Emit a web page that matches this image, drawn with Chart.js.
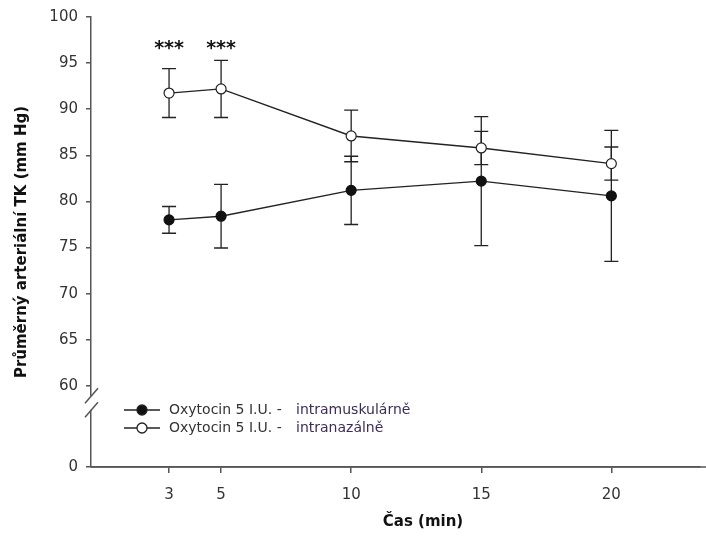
<!DOCTYPE html>
<html>
<head>
<meta charset="utf-8">
<script src="https://cdn.jsdelivr.net/npm/chart.js@4.4.1/dist/chart.umd.min.js"></script>
<style>
  html, body { margin: 0; padding: 0; background: #fff; overflow: hidden; }
</style>
</head>
<body>
<canvas id="myChart" width="706" height="543"></canvas>
<script>
// data (mean +/- error)
const times = [3, 5, 10, 15, 20];
const imMean = [78.0, 78.4, 81.2, 82.2, 80.6];
const imErr = [1.45, 3.45, 3.7, 7.0, 7.1];
const inMean = [91.75, 92.2, 87.1, 85.8, 84.1];
const inErr = [2.65, 3.1, 2.8, 1.8, 1.8];

const xTicks = [3, 5, 10, 15, 20];
const yTicks = [0, 60, 65, 70, 75, 80, 85, 90, 95, 100];
const yZeroAt = 51.2; // the "0" tick sits below the axis break
const sigTimes = [3, 5];
const sigLabel = '***';

const imLabel = ['Oxytocin 5 I.U. -', 'intramuskulárně'];
const inLabel = ['Oxytocin 5 I.U. -', 'intranazálně'];

const FONT = "'DejaVu Sans', sans-serif";

const extras = {
  id: 'extras',
  beforeDatasetsDraw(chart) {
    const { ctx, scales: { x, y } } = chart;
    ctx.save();
    ctx.strokeStyle = '#222';
    ctx.lineWidth = 1.3;
    chart.data.datasets.forEach(ds => {
      ds.data.forEach((p, i) => {
        const px = x.getPixelForValue(p.x);
        const top = y.getPixelForValue(p.y + ds.errors[i]);
        const bot = y.getPixelForValue(p.y - ds.errors[i]);
        ctx.beginPath();
        ctx.moveTo(px, top); ctx.lineTo(px, bot);
        ctx.moveTo(px - 7, top); ctx.lineTo(px + 7, top);
        ctx.moveTo(px - 7, bot); ctx.lineTo(px + 7, bot);
        ctx.stroke();
      });
    });
    ctx.restore();
  },
  afterDraw(chart) {
    const { ctx, chartArea, scales: { x, y } } = chart;
    ctx.save();

    // x axis runs on to the edge of the figure
    ctx.fillStyle = '#555';
    ctx.fillRect(chartArea.left, chartArea.bottom - 0.75, chart.width - chartArea.left, 1.5);

    // axis break
    const ax = chartArea.left;
    const y60 = y.getPixelForValue(60);
    ctx.fillStyle = '#fff';
    ctx.fillRect(ax - 3, y60 + 10, 6, 14);
    ctx.strokeStyle = '#555';
    ctx.lineWidth = 1.5;
    ctx.beginPath();
    ctx.moveTo(ax - 6, y60 + 17.5); ctx.lineTo(ax + 7, y60 + 2.5);
    ctx.moveTo(ax - 6, y60 + 31.5); ctx.lineTo(ax + 7, y60 + 16.5);
    ctx.stroke();

    // significance stars
    ctx.fillStyle = '#111';
    ctx.font = 'bold 19px ' + FONT;
    ctx.textAlign = 'center';
    ctx.textBaseline = 'middle';
    sigTimes.forEach(t => {
      ctx.fillText(sigLabel, x.getPixelForValue(t), y.getPixelForValue(96.9) + 3);
    });

    // legend
    const rows = [
      { ds: chart.data.datasets[0], text: imLabel, y: 410 },
      { ds: chart.data.datasets[1], text: inLabel, y: 428 }
    ];
    rows.forEach(r => {
      ctx.strokeStyle = '#222';
      ctx.lineWidth = 1.3;
      ctx.beginPath();
      ctx.moveTo(124, r.y); ctx.lineTo(160, r.y);
      ctx.stroke();
      ctx.beginPath();
      ctx.arc(142, r.y, 5, 0, Math.PI * 2);
      ctx.fillStyle = r.ds.pointBackgroundColor;
      ctx.fill();
      ctx.stroke();
      ctx.font = '14px ' + FONT;
      ctx.textAlign = 'left';
      ctx.textBaseline = 'middle';
      ctx.fillStyle = '#333';
      ctx.fillText(r.text[0], 169, r.y);
      ctx.fillStyle = '#3d2c55';
      ctx.fillText(r.text[1], 296, r.y);
    });

    // x axis title
    ctx.font = 'bold 15px ' + FONT;
    ctx.fillStyle = '#111';
    ctx.textAlign = 'center';
    ctx.textBaseline = 'middle';
    ctx.fillText('Čas (min)', 423, 522);

    ctx.restore();
  }
};

new Chart(document.getElementById('myChart'), {
  type: 'line',
  data: {
    datasets: [
      {
        label: imLabel.join('   '),
        data: times.map((t, i) => ({ x: t, y: imMean[i] })),
        errors: imErr,
        borderColor: '#222',
        borderWidth: 1.4,
        pointRadius: 5,
        pointBorderWidth: 1.2,
        pointBorderColor: '#111',
        pointBackgroundColor: '#111',
        tension: 0
      },
      {
        label: inLabel.join('   '),
        data: times.map((t, i) => ({ x: t, y: inMean[i] })),
        errors: inErr,
        borderColor: '#222',
        borderWidth: 1.4,
        pointRadius: 5,
        pointBorderWidth: 1.2,
        pointBorderColor: '#222',
        pointBackgroundColor: '#fff',
        tension: 0
      }
    ]
  },
  options: {
    responsive: false,
    animation: false,
    layout: { padding: { top: 17, right: 0, bottom: 0, left: 0 } },
    plugins: {
      legend: { display: false },
      tooltip: { enabled: false }
    },
    scales: {
      x: {
        type: 'linear',
        min: 0,
        max: 23.4,
        afterBuildTicks: s => { s.ticks = xTicks.map(v => ({ value: v })); },
        afterFit: s => { s.height = 76; },
        grid: { drawOnChartArea: false, tickLength: 6, color: '#555', lineWidth: 1.5 },
        border: { color: '#555', width: 1.5 },
        ticks: { color: '#333', font: { family: FONT, size: 15 }, padding: 13 }
      },
      y: {
        type: 'linear',
        min: yZeroAt,
        max: 100,
        afterBuildTicks: s => { s.ticks = yTicks.map(v => ({ value: v === 0 ? yZeroAt : v })); },
        afterFit: s => { s.width = 91; },
        grid: { drawOnChartArea: false, tickLength: 5, color: '#555', lineWidth: 1.5 },
        border: { color: '#555', width: 1.5 },
        ticks: {
          color: '#333',
          font: { family: FONT, size: 15 },
          padding: 8,
          callback: v => (v === yZeroAt ? '0' : v)
        },
        title: {
          display: true,
          text: 'Průměrný arteriální TK (mm Hg)',
          color: '#111',
          font: { family: FONT, size: 15, weight: 'bold' },
          padding: { top: 13, bottom: 0 }
        }
      }
    }
  },
  plugins: [extras]
});
</script>
</body>
</html>
